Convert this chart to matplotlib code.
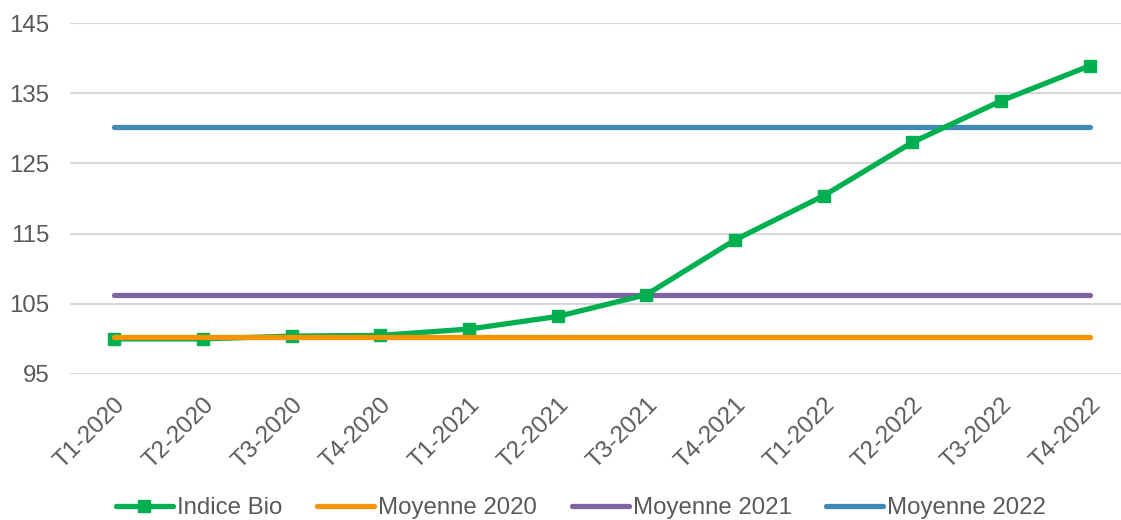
import matplotlib
matplotlib.use("Agg")
import matplotlib.pyplot as plt

categories = ["T1-2020", "T2-2020", "T3-2020", "T4-2020",
              "T1-2021", "T2-2021", "T3-2021", "T4-2021",
              "T1-2022", "T2-2022", "T3-2022", "T4-2022"]
indice_bio = [100.0, 100.0, 100.4, 100.5, 101.4, 103.2, 106.3, 114.1, 120.4, 128.0, 133.9, 138.9]
moyenne_2020 = 100.2
moyenne_2021 = 106.2
moyenne_2022 = 130.2
yticks = [95, 105, 115, 125, 135, 145]

plt.rcParams['font.family'] = ['Liberation Sans', 'DejaVu Sans']
TXT = "#595959"

fig = plt.figure(figsize=(11.21, 5.2), dpi=100)
W, H = 1121, 520
left, right, top, bottom = 70, 1134, 23, 374
ax = fig.add_axes([left / W, 1 - bottom / H, (right - left) / W, (bottom - top) / H])

x = list(range(len(categories)))
ax.plot(x, indice_bio, color="#00B050", lw=3.8, marker="s", ms=9, zorder=5,
        label="Indice Bio", solid_capstyle="round")
ax.plot(x, [moyenne_2020] * len(x), color="#F59300", lw=3.8, zorder=6,
        solid_capstyle="round", label="Moyenne 2020")
ax.plot(x, [moyenne_2021] * len(x), color="#8064A2", lw=3.8, zorder=4,
        solid_capstyle="round", label="Moyenne 2021")
ax.plot(x, [moyenne_2022] * len(x), color="#4389B8", lw=3.8, zorder=4,
        solid_capstyle="round", label="Moyenne 2022")

ax.set_xlim(-0.5, len(x) - 0.5)
ax.set_ylim(95, 145)
ax.set_yticks(yticks)
ax.set_yticklabels([str(v) for v in yticks])
ax.yaxis.grid(True, color="#D9D9D9", lw=1.5)
ax.set_axisbelow(True)
for s in ax.spines.values():
    s.set_visible(False)
ax.tick_params(axis="y", length=0, pad=15, labelsize=17.3, labelcolor=TXT)
ax.tick_params(axis="x", length=0, pad=14, labelsize=17.3, labelcolor=TXT)
ax.set_xticks(x)
ax.set_xticklabels(categories, rotation=45, ha="right", va="top", rotation_mode="anchor")

leg = fig.legend(loc="center", bbox_to_anchor=(581 / W, 1 - 508 / H), ncol=4,
                 frameon=False, fontsize=17.3, handlelength=2.37, handletextpad=0.17,
                 columnspacing=1.45, labelcolor=TXT)

fig.savefig("out.png", dpi=100)
